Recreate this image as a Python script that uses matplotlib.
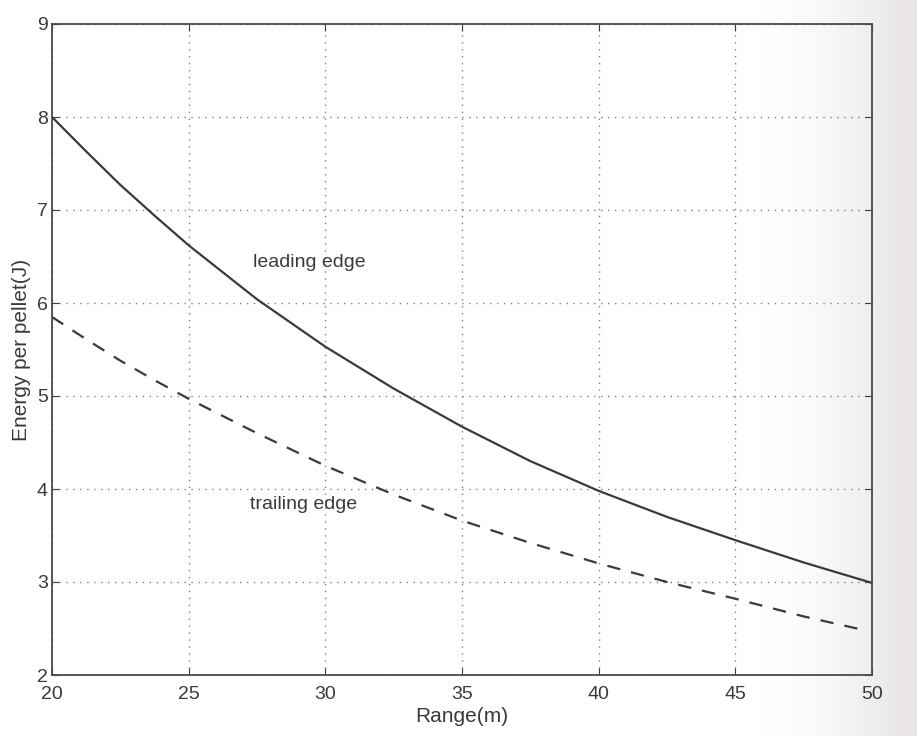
import numpy as np
import matplotlib.pyplot as plt

# values
range_m = [20, 21.25, 22.5, 23.75, 25, 27.5, 30, 32.5, 35, 37.5, 40, 42.5, 45, 47.5, 50]
leading_edge = [8.0, 7.63, 7.27, 6.94, 6.62, 6.04, 5.53, 5.08, 4.67, 4.30, 3.98, 3.70, 3.45, 3.21, 2.99]
range_trail = [20, 21.25, 22.5, 23.75, 25, 27.5, 30, 32.5, 35, 37.5, 40, 42.5, 45, 47.5, 49.6]
trailing_edge = [5.85, 5.61, 5.38, 5.17, 4.97, 4.60, 4.25, 3.94, 3.66, 3.42, 3.20, 3.00, 2.82, 2.63, 2.49]
x_ticks = [20, 25, 30, 35, 40, 45, 50]
y_ticks = [2, 3, 4, 5, 6, 7, 8, 9]

plt.rcParams['font.family'] = "Liberation Sans"

ink = "#3a3a3a"
fig = plt.figure(figsize=(9.17, 7.36), dpi=100)

# faint grey shading of the scanned page towards the right edge
bg = fig.add_axes([0, 0, 1, 1], zorder=-10)
xs = np.linspace(0, 917, 917)
t = np.clip((xs - 760) / 150, 0, 1)[None, :, None] ** 1.5
paper = np.array([1.0, 1.0, 1.0]) * (1 - t) + np.array([0.91, 0.9, 0.895]) * t
bg.imshow(np.repeat(paper, 10, axis=0), aspect="auto", extent=[0, 1, 0, 1])
bg.axis("off")

ax = fig.add_axes([52 / 917, 1 - 675 / 736, 820 / 917, 651 / 736])
ax.set_facecolor("none")

ax.plot(range_m, leading_edge, color=ink, lw=1.6)
ax.plot(range_trail, trailing_edge, color=ink, lw=1.6, ls=(0, (6, 5)))

ax.text(29.4, 6.44, "leading edge", fontsize=14, color=ink, ha="center", va="center")
ax.text(29.2, 3.83, "trailing edge", fontsize=14, color=ink, ha="center", va="center")

ax.set_xlim(20, 50)
ax.set_ylim(2, 9)
ax.set_xticks(x_ticks)
ax.set_yticks(y_ticks)
ax.grid(True, ls=(0, (1, 4)), color="#808080", lw=1.0)
ax.tick_params(direction="in", top=True, right=True, length=5, labelsize=14, colors=ink)
ax.tick_params(axis="x", pad=8)
ax.tick_params(axis="y", pad=3)
for s in ax.spines.values():
    s.set_color("#4a4a4a")
    s.set_linewidth(1.3)

ax.set_xlabel("Range(m)", fontsize=15, color=ink, labelpad=3)
ax.set_ylabel("Energy per pellet(J)", fontsize=15, color=ink, labelpad=4)

fig.savefig("out.png", dpi=100)
